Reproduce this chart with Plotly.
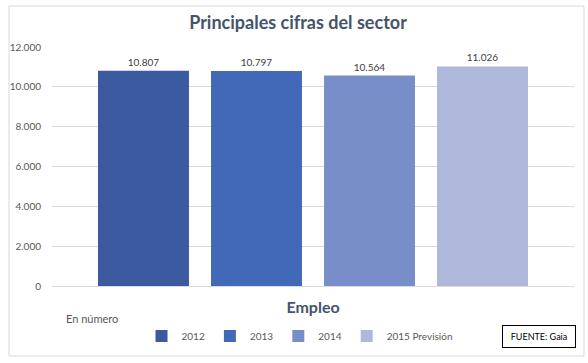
import plotly.graph_objects as go

category = ["Empleo"]
series_names = ["2012", "2013", "2014", "2015 Previsión"]
series_values = [10807, 10797, 10564, 11026]
series_colors = ["#3b5a9f", "#4268b8", "#778ec8", "#adb8da"]
y_ticks = [0, 2000, 4000, 6000, 8000, 10000, 12000]

W, H = 588, 363
ml, mr, mt, mb = 52, 14, 47, 77

fig = go.Figure()
for name, val, col in zip(series_names, series_values, series_colors):
    fig.add_trace(go.Bar(
        x=category, y=[val], name=name,
        marker=dict(color=col, line=dict(width=0)),
        texttemplate="%{y:,d}", textposition="outside",
        textfont=dict(size=10, color="#404040", family="Lato"),
        cliponaxis=False,
    ))

pw = W - ml - mr
ph = H - mt - mb
def px(x):
    return (x - ml) / pw
def py(y):
    return (H - mb - y) / ph

fig.update_layout(
    width=W, height=H,
    margin=dict(l=ml, r=mr, t=mt, b=mb, autoexpand=False),
    paper_bgcolor="white", plot_bgcolor="white",
    separators=",.",
    barmode="group", bargap=0.134, bargroupgap=0.195,
    font=dict(family="Lato", color="#595959", size=10),
    title=dict(text="<b>Principales cifras del sector</b>", x=298 / W, xref="container",
               xanchor="center", y=1 - 23 / H, yanchor="middle",
               font=dict(size=18, color="#44546a", family="Lato")),
    xaxis=dict(showgrid=False, showline=False, ticks="", automargin=False,
               tickfont=dict(size=16, color="#44546a", family="Lato"),
               tickprefix="<b>", ticksuffix="</b>", ticklabelstandoff=10),
    yaxis=dict(range=[0, 12000], tickvals=y_ticks, tickformat=",d", automargin=False,
               showgrid=True, gridcolor="#d9d9d9", gridwidth=1,
               zeroline=True, zerolinecolor="#d9d9d9", zerolinewidth=1,
               showline=False, ticks="", ticklabelstandoff=10,
               tickfont=dict(size=10, color="#595959")),
    legend=dict(orientation="h", xref="container", yref="container",
                x=300 / W, xanchor="center",
                y=1 - 336 / H, yanchor="middle",
                font=dict(size=10, color="#595959"),
                itemwidth=30, tracegroupgap=0, bgcolor="rgba(0,0,0,0)"),
    showlegend=True,
)

# outer chart frame
fig.add_shape(type="rect", xref="paper", yref="paper",
              x0=px(9), x1=px(584), y0=py(356), y1=py(6),
              line=dict(color="#d9d9d9", width=1), fillcolor="rgba(0,0,0,0)",
              layer="below")

fig.add_annotation(text="En número", xref="paper", yref="paper",
                   x=px(64), xanchor="left", y=py(318), yanchor="middle",
                   showarrow=False, font=dict(size=11, color="#595959"))

fig.add_annotation(text="FUENTE: Gaia", xref="paper", yref="paper",
                   x=px(539), xanchor="center", y=py(336.5), yanchor="middle",
                   showarrow=False, font=dict(size=9, color="#000000"),
                   bordercolor="#000000", borderwidth=1, borderpad=5,
                   bgcolor="white", width=62)

fig.write_html("out.html", config={"displayModeBar": False},
               post_script="document.body.style.margin='0';document.body.style.overflow='hidden';")
